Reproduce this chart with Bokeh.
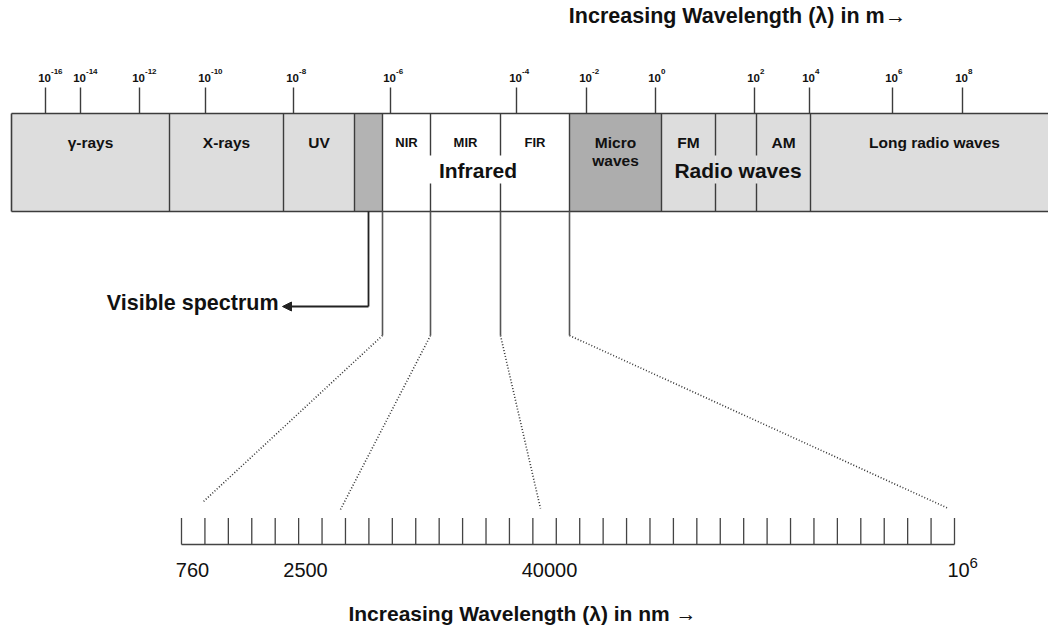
from bokeh.plotting import figure
from bokeh.models import Range1d, ColumnDataSource, Arrow, NormalHead
from bokeh.core.properties import value
from bokeh.embed import file_html
from bokeh.resources import INLINE
import numpy as np

# ---------------- data ----------------
band_labels = ["γ-rays", "X-rays", "UV", "", "NIR", "MIR", "FIR", "Micro", "FM", "", "AM", "Long radio waves"]
band_labels2 = ["", "", "", "", "", "", "", "waves", "", "", "", ""]
band_left = [11, 169, 283, 354, 382, 430, 500, 569, 661, 715, 756, 810]
band_right = [169, 283, 354, 382, 430, 500, 569, 661, 715, 756, 810, 1058]
band_fill = ["#dddddd", "#dddddd", "#dddddd", "#b3b3b3", "#ffffff", "#ffffff", "#ffffff",
             "#adadad", "#dddddd", "#dddddd", "#dddddd", "#dddddd"]
band_font = ["15.5px", "15.5px", "15.5px", "15.5px", "13px", "13px", "13px", "15.5px", "15.5px", "15.5px", "15.5px", "15.5px"]

group_labels = ["Infrared", "Radio waves"]
group_first = [4, 8]   # first band index in group
group_last = [6, 10]   # last band index in group

top_tick_x = [45, 80, 139, 205, 293, 390, 516, 586, 655, 754, 809, 892, 962]
top_tick_exp = ["-16", "-14", "-12", "-10", "-8", "-6", "-4", "-2", "0", "2", "4", "6", "8"]

# zoom connectors (infrared band edges -> nm ruler)
conn_target_x = [203, 340, 540, 948]
conn_target_y = [501, 509, 508, 508]

nm_tick_count = 34
nm_ruler_left, nm_ruler_right = 181, 954
nm_labels = ["760", "2500", "40000", "10"]
nm_label_x = [192, 305, 549, 958]
nm_label_sup = ["", "", "", "6"]

title_top = "Increasing Wavelength (λ) in m→"
title_bottom = "Increasing Wavelength (λ) in nm →"
visible_label = "Visible spectrum"

# ---------------- layout constants ----------------
W, H = 1048, 629
BAR_TOP, BAR_BOT = 113, 211
EDGE = "#3c3c3c"
FONT = value("Liberation Sans")
TXT = dict(text_baseline="middle", text_font=FONT, text_color="#111111")

p = figure(width=W, height=H, x_range=Range1d(0, W), y_range=Range1d(H, 0),
           output_backend="svg", toolbar_location=None, min_border=0,
           x_axis_type=None, y_axis_type=None)
p.outline_line_color = None
p.grid.visible = False

# bands
src = ColumnDataSource(dict(left=band_left, right=band_right, fill=band_fill,
                            top=[BAR_TOP] * len(band_left), bottom=[BAR_BOT] * len(band_left)))
p.quad(left="left", right="right", top="top", bottom="bottom", fill_color="fill",
       line_color=None, source=src)

# outer border
p.segment(x0=[band_left[0], band_left[0], band_left[0]], y0=[BAR_TOP, BAR_BOT, BAR_TOP],
          x1=[band_right[-1], band_right[-1], band_left[0]], y1=[BAR_TOP, BAR_BOT, BAR_BOT],
          line_color=EDGE, line_width=1.6)

# internal band boundaries (broken where a group label crosses)
GAP_TOP, GAP_BOT = 155, 183
inner_edges = band_left[1:]
bx0, by0, bx1, by1 = [], [], [], []
for i, x in enumerate(inner_edges, start=1):
    broken = any(f < i <= l for f, l in zip(group_first, group_last))
    if broken:
        bx0 += [x, x]; bx1 += [x, x]
        by0 += [BAR_TOP, GAP_BOT]; by1 += [GAP_TOP, BAR_BOT]
    else:
        bx0.append(x); bx1.append(x); by0.append(BAR_TOP); by1.append(BAR_BOT)
p.segment(x0=bx0, y0=by0, x1=bx1, y1=by1, line_color=EDGE, line_width=1.4)

# band labels
centers = [(l + r) / 2 for l, r in zip(band_left, band_right)]
for lab, lab2, cx, fs in zip(band_labels, band_labels2, centers, band_font):
    if lab:
        p.text(x=[cx], y=[142], text=[lab], text_align="center",
               text_font_style="bold", text_font_size=fs, **TXT)
    if lab2:
        p.text(x=[cx], y=[160], text=[lab2], text_align="center",
               text_font_style="bold", text_font_size=fs, **TXT)

# group labels
gx = [(band_left[f] + band_right[l]) / 2 + 2 for f, l in zip(group_first, group_last)]
p.text(x=gx, y=[169.5] * len(gx), text=group_labels, text_align="center",
       text_font_style="bold", text_font_size="21px", **TXT)

# top wavelength ticks
p.segment(x0=top_tick_x, y0=[87] * len(top_tick_x), x1=top_tick_x, y1=[BAR_TOP] * len(top_tick_x),
          line_color=EDGE, line_width=1.4)
p.text(x=[x + 5.5 for x in top_tick_x], y=[77] * len(top_tick_x), text=["10"] * len(top_tick_x),
       text_align="right", text_font_style="bold", text_font_size="11.5px", **TXT)
p.text(x=[x + 5.5 for x in top_tick_x], y=[70.5] * len(top_tick_x), text=top_tick_exp,
       text_align="left", text_font_style="bold", text_font_size="8px", **TXT)

# titles
p.text(x=[737], y=[15], text=[title_top], text_align="center",
       text_font_style="bold", text_font_size="21.5px", **TXT)
p.text(x=[522], y=[612.5], text=[title_bottom], text_align="center",
       text_font_style="bold", text_font_size="21px", **TXT)

# visible spectrum pointer
vis_x = (band_left[3] + band_right[3]) / 2
p.line(x=[vis_x, vis_x], y=[BAR_BOT, 306], line_color="#222222", line_width=1.8)
p.add_layout(Arrow(end=NormalHead(size=9, fill_color="#222222", line_color="#222222"),
                   x_start=vis_x, y_start=306, x_end=282, y_end=306,
                   line_color="#222222", line_width=1.8))
p.text(x=[278], y=[302], text=[visible_label], text_align="right",
       text_font_style="bold", text_font_size="21.5px", **TXT)

# zoom connectors from infrared edges
ir_edges = [band_left[4], band_left[5], band_left[6], band_right[6]]
p.segment(x0=ir_edges, y0=[BAR_BOT] * 4, x1=ir_edges, y1=[335] * 4, line_color="#555555", line_width=1.6)
p.segment(x0=ir_edges, y0=[335] * 4, x1=conn_target_x, y1=conn_target_y, line_color="#333333",
          line_width=1.6, line_dash="1 2")

# nm ruler
tx = np.linspace(nm_ruler_left, nm_ruler_right, nm_tick_count)
p.segment(x0=tx, y0=[517.5] * nm_tick_count, x1=tx, y1=[544] * nm_tick_count, line_color="#444444", line_width=1.3)
p.segment(x0=[nm_ruler_left], y0=[544], x1=[nm_ruler_right], y1=[544], line_color="#444444", line_width=1.6)
p.text(x=nm_label_x, y=[569] * len(nm_labels), text=nm_labels, text_align="center",
       text_font_size="20px", **TXT)
sx = [x + 11 for x, s in zip(nm_label_x, nm_label_sup) if s]
p.text(x=sx, y=[562.5] * len(sx), text=[s for s in nm_label_sup if s], text_align="left",
       text_font_size="15px", **TXT)

open("out.html", "w").write(file_html(p, INLINE))
